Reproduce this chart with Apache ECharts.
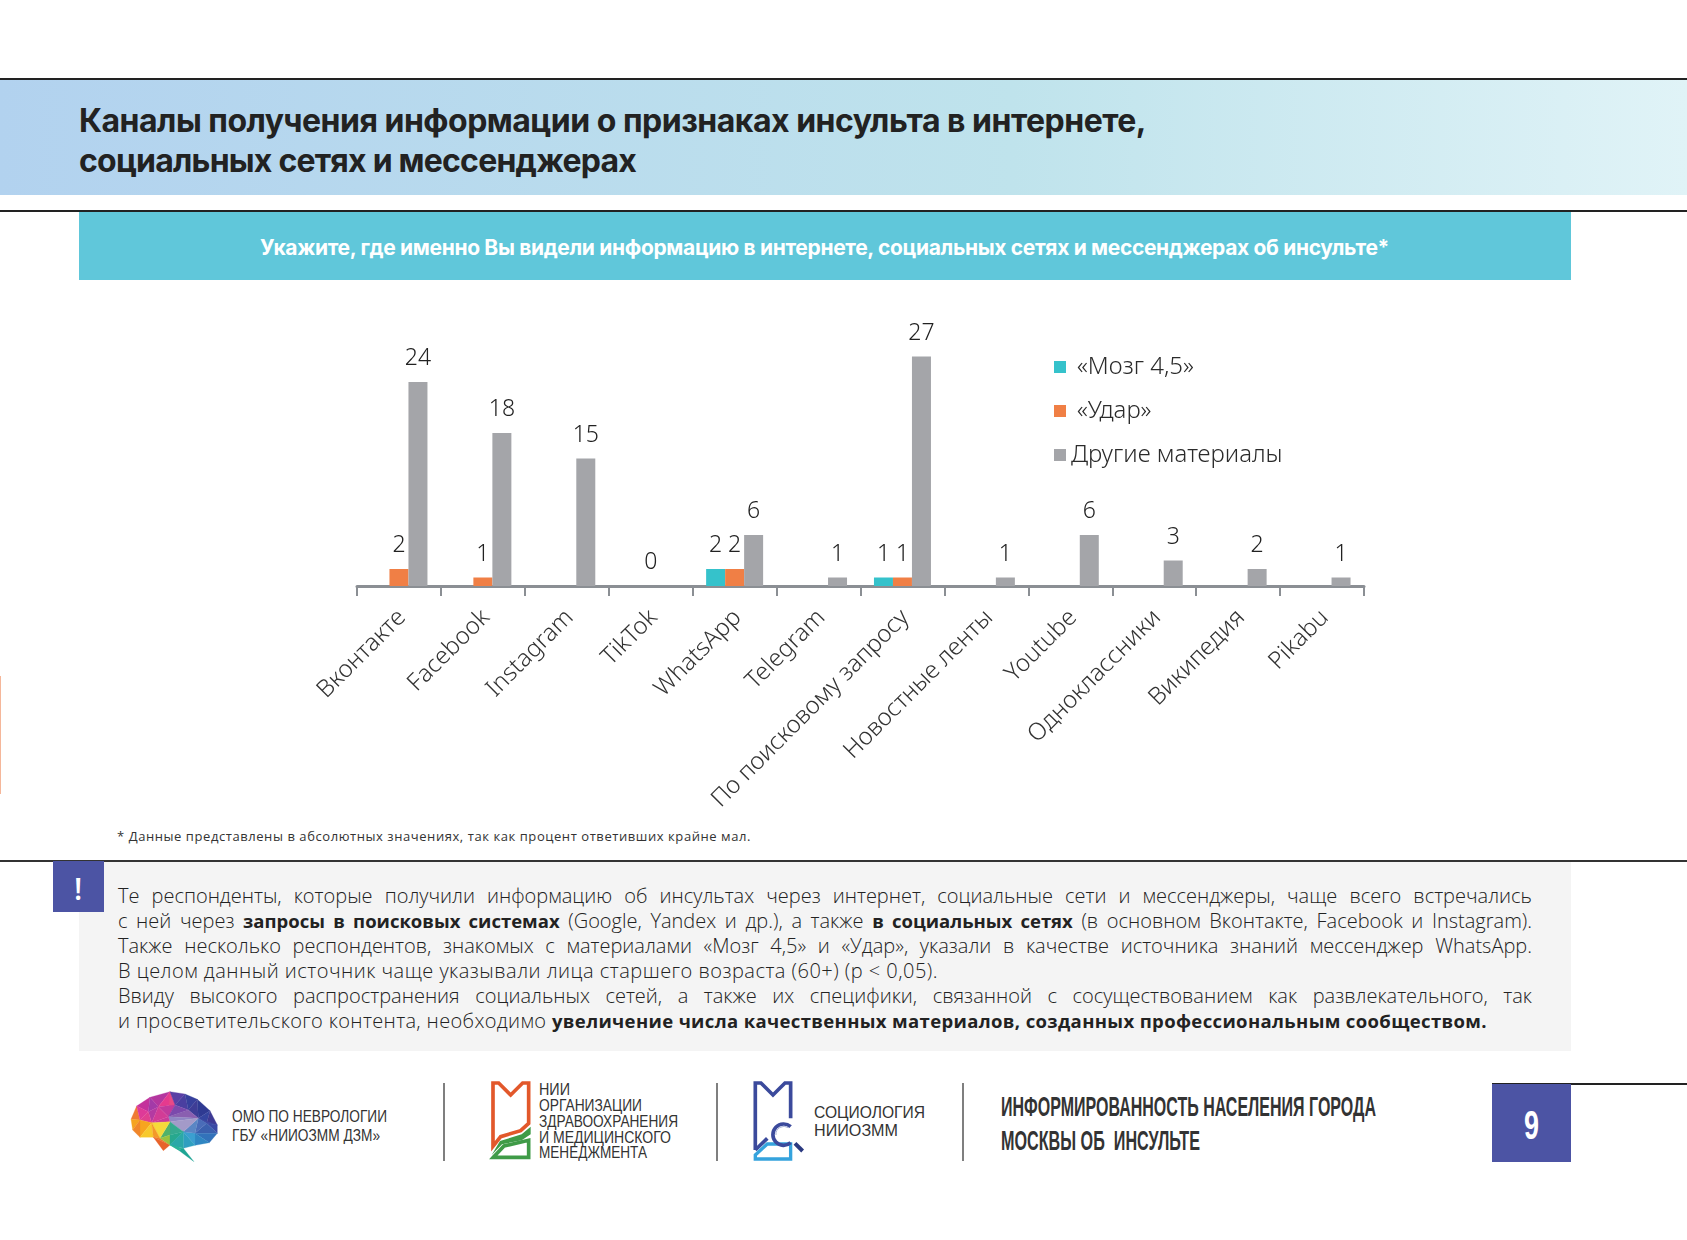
<!DOCTYPE html>
<html lang="ru"><head><meta charset="utf-8">
<style>
html,body{margin:0;padding:0;background:#fff;width:1687px;height:1240px;overflow:hidden;font-family:"Open Sans",sans-serif;color:#2b2b2b}
.a{position:absolute}
.l{position:absolute;white-space:nowrap;line-height:1}
#chart{position:absolute;left:0;top:0;width:1687px;height:1240px}
.p{position:absolute;left:118px;width:1414px;font-family:"Open Sans",sans-serif;font-weight:300;font-size:20px;line-height:25px;color:#222;white-space:nowrap}
.j{text-align:justify;text-align-last:justify;white-space:normal}
.p b{color:#222;font-weight:700;font-size:18.5px}
.f{font:400 16px 'Liberation Sans',sans-serif;color:#333}
</style></head><body>
<div class="a" style="left:0;top:78px;width:1687px;height:2px;background:#222"></div>
<div class="a" style="left:0;top:80px;width:1687px;height:115px;background:linear-gradient(90deg,#b2d2ef,#bfe3ec 60%,#e0f3f7)"></div>
<div class="a" style="left:0;top:210px;width:1687px;height:2px;background:#222"></div>
<div class="a" style="left:79px;top:212px;width:1492px;height:68px;background:#60c7da"></div>
<div class="a" style="left:0;top:676px;width:1px;height:118px;background:#f5b79a"></div>
<div class="a" style="left:0;top:860px;width:1687px;height:2px;background:#333"></div>
<div class="a" style="left:79px;top:862px;width:1492px;height:189px;background:#f4f4f4"></div>
<div class="a" style="left:53px;top:861px;width:51px;height:51px;background:#4c54a4"></div>
<div class="l" data-w="1067" style="left:79px;top:101px;font:700 32px Inter,sans-serif;color:#222">Каналы получения информации о признаках инсульта в интернете,</div>
<div class="l" data-w="557" style="left:79px;top:141px;font:700 32px Inter,sans-serif;color:#222">социальных сетях и мессенджерах</div>
<div class="l" data-w="1129" style="left:260px;top:235px;font:700 21px Inter,sans-serif;color:#fff">Укажите, где именно Вы видели информацию в интернете, социальных сетях и мессенджерах об инсульте*</div>
<div class="l" style="left:74px;top:868px;font:600 30px 'Open Sans',sans-serif;color:#fff">!</div>
<div class="l" data-w="634" style="left:117px;top:827px;font:400 13px 'Open Sans',sans-serif;color:#333">* Данные представлены в абсолютных значениях, так как процент ответивших крайне мал.</div>
<div class="p j" style="top:883px">Те респонденты, которые получили информацию об инсультах через интернет, социальные сети и мессенджеры, чаще всего встречались</div>
<div class="p j" style="top:908px">с ней через <b>запросы в поисковых системах</b> (Google, Yandex и др.), а также <b>в социальных сетях</b> (в основном Вконтакте, Facebook и Instagram).</div>
<div class="p j" style="top:933px">Также несколько респондентов, знакомых с материалами «Мозг 4,5» и «Удар», указали в качестве источника знаний мессенджер WhatsApp.</div>
<div class="p" data-w="820" style="top:958px">В целом данный источник чаще указывали лица старшего возраста (60+) (p &lt; 0,05).</div>
<div class="p j" style="top:983px">Ввиду высокого распространения социальных сетей, а также их специфики, связанной с сосуществованием как развлекательного, так</div>
<div class="p" data-w="1369" style="top:1008px">и просветительского контента, необходимо <b>увеличение числа качественных материалов, созданных профессиональным сообществом.</b></div>
<svg class="a" style="left:0;top:1075px" width="1687" height="100" viewBox="0 1075 1687 100">
<g id="brain" transform="translate(120,1080) scale(0.3333)"></g>
<path d="M444,1083V1161M717,1083V1161M963,1083V1161" stroke="#555" stroke-width="1.5" fill="none"/>
<g transform="translate(480,1075) scale(0.3333)" fill="none" stroke-linejoin="miter">
<path d="M39,24H56L92,60L128,24H146V145L122,167L62,185L39,214Z" stroke="#e2582b" stroke-width="11"/>
<path d="M40,247L72,213L146,196V247Z" stroke="#3f9b47" stroke-width="11"/>
<path d="M60,198L125,178L152,155V178L125,196L66,208L35,240Z" fill="#3f9b47"/>
<path d="M826,225V24H843L879,60L915,24H932V130" stroke="#3b4a9c" stroke-width="11"/>
<path d="M826,225L862,190" stroke="#3b4a9c" stroke-width="11"/>
<path d="M826,252V240L862,207H932V252Z" stroke="#35a3dd" stroke-width="10"/>
<path d="M932,155A32,32 0 1 0 932,203" stroke="#3b4a9c" stroke-width="11"/>
<path d="M925,158A24,24 0 0 0 888,180" stroke="#a9b4d8" stroke-width="3"/>
<path d="M945,205L968,228" stroke="#2b3a80" stroke-width="12"/>
</g>
</svg>
<div class="l f" data-sw="155" style="left:232px;top:1108px">ОМО ПО НЕВРОЛОГИИ</div>
<div class="l f" data-sw="148" style="left:232px;top:1127px">ГБУ «НИИОЗММ ДЗМ»</div>
<div class="l f" data-sw="31" style="left:539px;top:1081px">НИИ</div>
<div class="l f" data-sw="103" style="left:539px;top:1097px">ОРГАНИЗАЦИИ</div>
<div class="l f" data-sw="139" style="left:539px;top:1113px">ЗДРАВООХРАНЕНИЯ</div>
<div class="l f" data-sw="132" style="left:539px;top:1129px">И МЕДИЦИНСКОГО</div>
<div class="l f" data-sw="108" style="left:539px;top:1144px">МЕНЕДЖМЕНТА</div>
<div class="l f" data-sw="111" style="left:814px;top:1104px">СОЦИОЛОГИЯ</div>
<div class="l f" data-sw="84" style="left:814px;top:1122px">НИИОЗММ</div>
<div class="l" data-sw="375" style="left:1001px;top:1091px;font:700 28px 'Liberation Sans',sans-serif;color:#333">ИНФОРМИРОВАННОСТЬ НАСЕЛЕНИЯ ГОРОДА</div>
<div class="l" data-sw="199" style="left:1001px;top:1125px;font:700 28px 'Liberation Sans',sans-serif;color:#333;white-space:pre">МОСКВЫ ОБ  ИНСУЛЬТЕ</div>
<div class="a" style="left:1492px;top:1083px;width:195px;height:2px;background:#222"></div>
<div class="a" style="left:1492px;top:1084px;width:79px;height:78px;background:#4c54a4"></div>
<div class="l" data-sw="15" style="left:1524px;top:1102px;font:700 41px 'Liberation Sans',sans-serif;color:#fff">9</div>
<div id="chart"></div>
<script src="https://cdn.jsdelivr.net/npm/echarts@6/dist/echarts.min.js"></script>
<script>
const categories = ["Вконтакте","Facebook","Instagram","TikTok","WhatsApp","Telegram","По поисковому запросу","Новостные ленты","Youtube","Одноклассники","Википедия","Pikabu"];
const mozg = [null,null,null,null,2,null,1,null,null,null,null,null];
const udar = [2,1,null,0,2,null,1,null,null,null,null,null];
const other = [24,18,15,null,6,1,27,1,6,3,2,1];
const seriesNames = ["«Мозг 4,5»","«Удар»","Другие материалы"];
const colors = ["#35c2cb","#f07f45","#a4a5a9"];
const font = '"Noto Sans",sans-serif';

const P={A:[33,118],B:[50,78],C:[90,52],D:[150,35],E:[195,42],F:[232,58],G:[270,92],H:[292,135],I:[292,160],J:[268,188],K:[225,196],L:[190,205],M:[222,245],N:[175,210],O:[130,212],Q:[100,172],R:[60,172],S:[38,150],
a:[85,95],b:[115,80],c:[145,110],d:[165,75],e:[205,90],f:[235,115],g:[260,130],h:[150,125],i:[95,128],j:[60,120],k:[150,165],l:[190,155],m:[225,160],n:[120,175],o:[150,195]};
const tris=[["ABj","#ef7a35"],["BCa","#c4329c"],["Baj","#de3a98"],["Cba","#a33aa8"],["CDb","#b4369f"],["Dbd","#e53a8e"],["Ddc","#e84a86"],["bcd","#c13a9c"],["DEd","#5a3fa5"],["Ede","#4a3fa0"],["EFe","#37409c"],["Fef","#3e3d96"],["FGf","#2f3a92"],["Gfg","#35459f"],["GHg","#3e3a94"],["Hgf","#3f4ba4"],["HIg","#3a4aa6"],["Igm","#3b60ae"],["fgm","#4a6cb8"],["IJm","#3272ba"],["JKm","#2f86c2"],["Klm","#3b9fd0"],["fml","#5a86c4"],["efc","#8a5fb0"],["dec","#7b49ac"],["cfh","#8f86c4"],["hfl","#a39ac8"],["hlk","#35a98f"],["hkn","#52b26a"],["ich","#c83a9a"],["abi","#b43aa2"],["bci","#d23c96"],["aij","#e0408f"],["jiR","#f7a51f"],["iQR","#f7c92c"],["ihn","#f6d93a"],["iQn","#f39a28"],["ASj","#f5a31f"],["SjR","#f0862a"],["Qno","#ee7a2a"],["QoO","#e8632a"],["nko","#9ac23f"],["klo","#27a88e"],["loN","#33b7a0"],["lKL","#2f9fc0"],["lLo","#2ba8a8"],["oNL","#2bb49a"],["LMN","#1ea594"]];
const svgNS='http://www.w3.org/2000/svg',brain=document.getElementById('brain');
tris.forEach(([k,c])=>{const ks=[...k].filter(x=>P[x]);if(ks.length<3)return;const pl=document.createElementNS(svgNS,'polygon');pl.setAttribute('points',ks.map(x=>P[x].join(',')).join(' '));pl.setAttribute('fill',c);pl.setAttribute('stroke',c);pl.setAttribute('stroke-width','0.8');brain.appendChild(pl);});

document.querySelectorAll('[data-w]').forEach(el=>{
  el.style.display='inline-block';el.style.width='auto';
  const w=el.getBoundingClientRect().width,n=el.textContent.length;
  el.style.letterSpacing=((+el.dataset.w-w)/n)+'px';
});
document.querySelectorAll('[data-sw]').forEach(el=>{
  const w=el.getBoundingClientRect().width;
  el.style.transformOrigin='left center';
  el.style.transform='scaleX('+(+el.dataset.sw/w)+')';
});

const chart = echarts.init(document.getElementById('chart'),null,{renderer:'canvas'});
const vals=[mozg,udar,other];
chart.setOption({
  animation:false,
  color:colors,
  backgroundColor:'transparent',
  grid:{left:357,top:331,width:1007,height:255,containLabel:false},
  legend:{orient:'vertical',left:1049,top:350,icon:'rect',itemWidth:12,itemHeight:12,itemGap:20,
    textStyle:{fontFamily:font,fontSize:24,fontWeight:300,lineHeight:24,color:'#2b2b2b'},
    data:[{name:seriesNames[0],textStyle:{padding:[0,0,0,6]}},{name:seriesNames[1],textStyle:{padding:[0,0,0,6]}},{name:seriesNames[2]}]},
  xAxis:{type:'category',data:categories,
    axisLine:{lineStyle:{color:'#8b8f94',width:3}},
    axisTick:{show:true,length:10,lineStyle:{color:'#8b8f94',width:2}},
    axisLabel:{interval:0,rotate:45,margin:25,verticalAlign:'top',lineHeight:8,fontFamily:font,fontWeight:300,fontSize:24,color:'#333'}},
  yAxis:{type:'value',min:0,max:30,show:false,splitLine:{show:false}},
  series:seriesNames.map((n,i)=>({name:n,type:'bar',data:vals[i],barWidth:19,barGap:0,
    label:{show:true,position:'top',distance:12,fontFamily:font,fontWeight:300,fontSize:23,color:'#222'},
    itemStyle:{color:colors[i]}}))
});
</script>
</body></html>
